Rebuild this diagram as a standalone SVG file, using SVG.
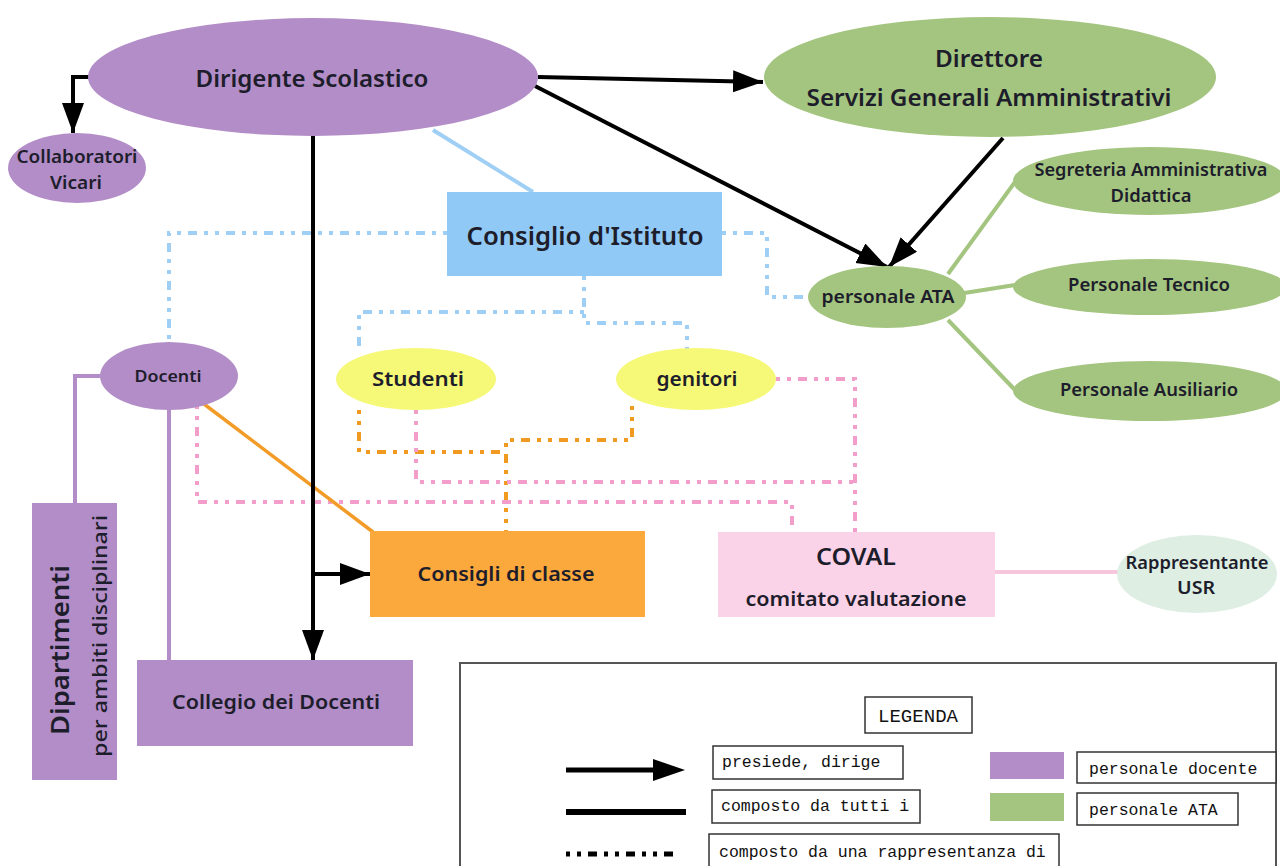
<svg xmlns="http://www.w3.org/2000/svg" width="1280" height="866" viewBox="0 0 1280 866">
<defs>
<marker id="arr" markerUnits="userSpaceOnUse" markerWidth="32" markerHeight="24" refX="30" refY="11" orient="auto">
<path d="M0,0 L30,11 L0,22 z" fill="#000"/>
</marker>
<style>
.t{font-family:"Noto Sans","Liberation Sans",sans-serif;font-weight:600;fill:#1d1d2b;text-anchor:middle}
.m{font-family:"Liberation Mono","DejaVu Sans Mono",monospace;fill:#111}
.pur{fill:#b28dc7}
.grn{fill:#a4c57f}
.blk{stroke:#000;stroke-width:4;fill:none}
.dot{fill:none;stroke-width:4;stroke-dasharray:4 7 4 7 9 7}
.db{stroke:#9fcff4}
.dp{stroke:#f29dca}
.do{stroke:#f19a22}
.lbox{fill:#fff;stroke:#333;stroke-width:1.5}
</style>
</defs>
<rect width="1280" height="866" fill="#fff"/>

<g id="connectors">
<path class="dot db" d="M447,233 H169 V342"/>
<path class="dot db" d="M722,233 H767 V297 H809"/>
<path class="dot db" d="M584,276 V323 H687 V349"/>
<path class="dot db" d="M584,312 H359 V350"/>
<path class="dot do" d="M359,410 V452 H506"/>
<path class="dot do" d="M632,406 V440 H506 V532"/>
<path class="dot dp" d="M416,410 V482 H855"/>
<path class="dot dp" d="M776,379 H855 V532"/>
<path class="dot dp" d="M197,405 V502 H792 V532"/>
<path d="M433,130 L533,192" stroke="#9fcff4" stroke-width="4" fill="none"/>
<path d="M100,376 H75 V503" stroke="#b28dc7" stroke-width="4" fill="none"/>
<path d="M169,410 V660" stroke="#b28dc7" stroke-width="4" fill="none"/>
<path d="M200,401 L373,532" stroke="#f39b27" stroke-width="3.5" fill="none"/>
<path d="M995,572 H1118" stroke="#f6c6dc" stroke-width="4" fill="none"/>
<path d="M948,274 L1015,182 M958,294 L1015,285 M948,320 L1015,390" stroke="#a4c57f" stroke-width="4" fill="none"/>
<path class="blk" d="M90,77 H73 V133" marker-end="url(#arr)"/>
<path class="blk" d="M538,77 L763,82" marker-end="url(#arr)"/>
<path class="blk" d="M535,86 L887,267" marker-end="url(#arr)"/>
<path class="blk" d="M1003,138 L889,267" marker-end="url(#arr)"/>
<path class="blk" d="M313,136 V660" marker-end="url(#arr)"/>
<path class="blk" d="M313,574 H370" marker-end="url(#arr)"/>
</g>

<g id="dirigente">
<ellipse class="pur" cx="313" cy="77" rx="225" ry="59"/>
<text class="t" x="312" y="87" font-size="24" textLength="233" lengthAdjust="spacingAndGlyphs">Dirigente Scolastico</text>
</g>
<g id="collaboratori">
<ellipse class="pur" cx="77" cy="168" rx="69" ry="35"/>
<text class="t" x="77" y="163" font-size="17" textLength="121" lengthAdjust="spacingAndGlyphs">Collaboratori</text>
<text class="t" x="76" y="189" font-size="17" textLength="52" lengthAdjust="spacingAndGlyphs">Vicari</text>
</g>
<g id="direttore">
<ellipse class="grn" cx="990" cy="77" rx="226" ry="60"/>
<text class="t" x="989" y="67" font-size="23" textLength="108" lengthAdjust="spacingAndGlyphs">Direttore</text>
<text class="t" x="989" y="106" font-size="23" textLength="365" lengthAdjust="spacingAndGlyphs">Servizi Generali Amministrativi</text>
</g>
<g id="consiglio-istituto">
<rect x="447" y="192" width="275" height="84" fill="#91c9f6"/>
<text class="t" x="585" y="245" font-size="25" textLength="237" lengthAdjust="spacingAndGlyphs">Consiglio d'Istituto</text>
</g>
<g id="personale-ata">
<ellipse class="grn" cx="887" cy="297" rx="79" ry="31"/>
<text class="t" x="888" y="303" font-size="17" textLength="133" lengthAdjust="spacingAndGlyphs">personale ATA</text>
</g>
<g id="segreteria">
<ellipse class="grn" cx="1150" cy="181" rx="137" ry="34"/>
<text class="t" x="1151" y="176" font-size="17" textLength="233" lengthAdjust="spacingAndGlyphs">Segreteria Amministrativa</text>
<text class="t" x="1151" y="202" font-size="17" textLength="81" lengthAdjust="spacingAndGlyphs">Didattica</text>
</g>
<g id="tecnico">
<ellipse class="grn" cx="1150" cy="287" rx="137" ry="28"/>
<text class="t" x="1149" y="291" font-size="17" textLength="162" lengthAdjust="spacingAndGlyphs">Personale Tecnico</text>
</g>
<g id="ausiliario">
<ellipse class="grn" cx="1150" cy="391" rx="137" ry="30"/>
<text class="t" x="1149" y="396" font-size="17" textLength="178" lengthAdjust="spacingAndGlyphs">Personale Ausiliario</text>
</g>
<g id="docenti">
<ellipse class="pur" cx="169" cy="376" rx="69" ry="34"/>
<text class="t" x="168" y="382" font-size="16" textLength="67" lengthAdjust="spacingAndGlyphs">Docenti</text>
</g>
<g id="studenti">
<ellipse cx="416" cy="379" rx="80" ry="31" fill="#f6f878"/>
<text class="t" x="418" y="386" font-size="20" textLength="92" lengthAdjust="spacingAndGlyphs">Studenti</text>
</g>
<g id="genitori">
<ellipse cx="696" cy="379" rx="80" ry="31" fill="#f6f878"/>
<text class="t" x="697" y="386" font-size="20" textLength="81" lengthAdjust="spacingAndGlyphs">genitori</text>
</g>
<g id="consigli-classe">
<rect x="370" y="531" width="275" height="86" fill="#fba83c"/>
<text class="t" x="506" y="581" font-size="19" textLength="177" lengthAdjust="spacingAndGlyphs">Consigli di classe</text>
</g>
<g id="coval">
<rect x="718" y="532" width="277" height="85" fill="#fbd3e9"/>
<text class="t" x="856" y="565" font-size="23" textLength="80" lengthAdjust="spacingAndGlyphs">COVAL</text>
<text class="t" x="856" y="606" font-size="20" textLength="221" lengthAdjust="spacingAndGlyphs">comitato valutazione</text>
</g>
<g id="rappresentante">
<ellipse cx="1197" cy="574" rx="80" ry="39" fill="#deeee3"/>
<text class="t" x="1197" y="569" font-size="17" textLength="143" lengthAdjust="spacingAndGlyphs">Rappresentante</text>
<text class="t" x="1196" y="594" font-size="17" textLength="38" lengthAdjust="spacingAndGlyphs">USR</text>
</g>
<g id="dipartimenti">
<rect class="pur" x="32" y="503" width="85" height="277"/>
<text class="t" transform="translate(69,650) rotate(-90)" font-size="25" textLength="170" lengthAdjust="spacingAndGlyphs">Dipartimenti</text>
<text class="t" transform="translate(107,636) rotate(-90)" font-size="19" textLength="242" lengthAdjust="spacingAndGlyphs" style="font-weight:500">per ambiti disciplinari</text>
</g>
<g id="collegio">
<rect class="pur" x="137" y="660" width="276" height="86"/>
<text class="t" x="276" y="709" font-size="19" textLength="208" lengthAdjust="spacingAndGlyphs">Collegio dei Docenti</text>
</g>

<g id="legenda">
<rect x="460" y="663" width="816" height="220" fill="none" stroke="#555" stroke-width="2"/>
<rect class="lbox" x="865" y="697" width="107" height="36"/>
<text class="m" x="918" y="722" font-size="19" text-anchor="middle" textLength="80" lengthAdjust="spacingAndGlyphs">LEGENDA</text>
<path d="M566,770 H656" stroke="#000" stroke-width="5"/>
<path d="M653,759 L685,770 L653,781 z" fill="#000"/>
<rect class="lbox" x="713" y="746" width="190" height="33"/>
<text class="m" x="722" y="767" font-size="16.5">presiede, dirige</text>
<path d="M566,812 H686" stroke="#000" stroke-width="6"/>
<rect class="lbox" x="712" y="790" width="208" height="33"/>
<text class="m" x="721" y="811" font-size="16.5">composto da tutti i</text>
<path d="M566,854 H680" stroke="#000" stroke-width="5" stroke-dasharray="4 7 4 7 9 7"/>
<rect class="lbox" x="709" y="834" width="350" height="40"/>
<text class="m" x="719" y="857" font-size="16.5">composto da una rappresentanza di</text>
<rect class="pur" x="990" y="752" width="74" height="27"/>
<rect class="lbox" x="1077" y="752" width="199" height="31"/>
<text class="m" x="1089" y="774" font-size="16.5">personale docente</text>
<rect class="grn" x="990" y="793" width="74" height="28"/>
<rect class="lbox" x="1077" y="793" width="161" height="32"/>
<text class="m" x="1089" y="815" font-size="16.5">personale ATA</text>
</g>
</svg>
